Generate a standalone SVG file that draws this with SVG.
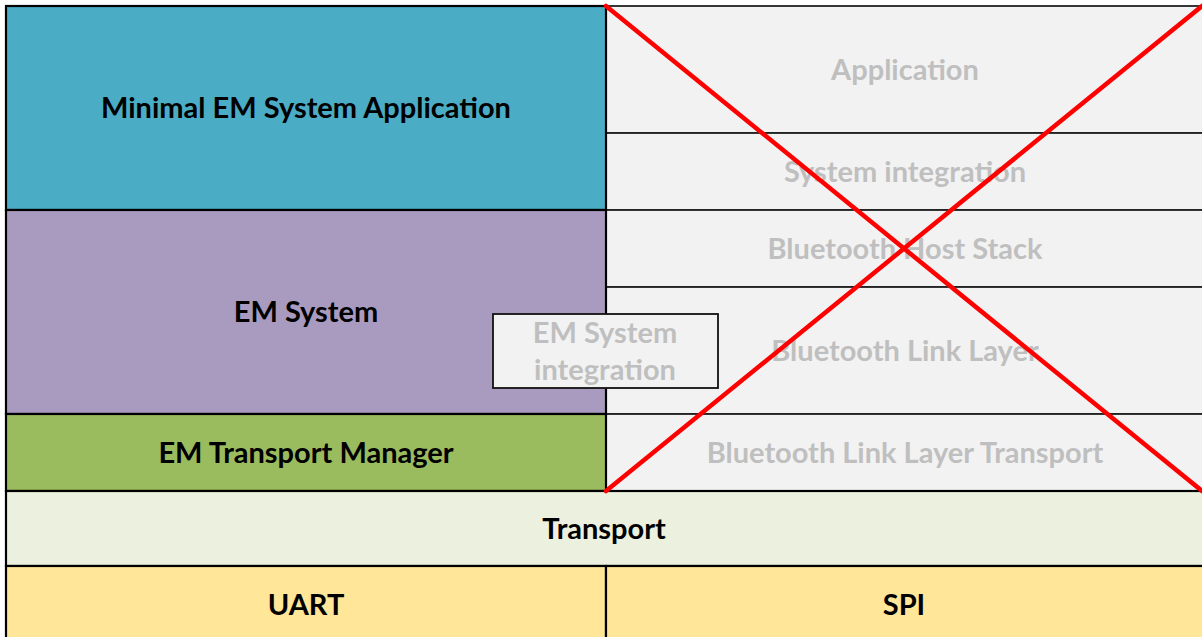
<svg xmlns="http://www.w3.org/2000/svg" width="1202" height="637" viewBox="0 0 1202 637">
<style>
.b{stroke:#000;stroke-width:2.2}
.g{fill:#F2F2F2;stroke:#222;stroke-width:1.8}
.t{font-family:Lato,"Open Sans","Liberation Sans",sans-serif;font-weight:bold;font-size:29px;text-anchor:middle;dominant-baseline:central;fill:#000}
.gt{fill:#BFBFBF}
.x{stroke:#FF0000;stroke-width:4.5;stroke-linecap:round}
</style>
<rect width="1202" height="637" fill="#fff"/>
<g id="gray-stack">
<g id="application"><rect class="g" x="606" y="6" width="600" height="127"/><text class="t gt" x="905" y="68">Application</text></g>
<g id="system-integration"><rect class="g" x="606" y="133" width="600" height="77"/><text class="t gt" x="905" y="170">System integration</text></g>
<g id="host-stack"><rect class="g" x="606" y="210" width="600" height="77"/><text class="t gt" x="905" y="247">Bluetooth Host Stack</text></g>
<g id="link-layer"><rect class="g" x="606" y="287" width="600" height="127"/><text class="t gt" x="905" y="349">Bluetooth Link Layer</text></g>
<g id="ll-transport"><rect class="g" x="606" y="414" width="600" height="77"/><text class="t gt" x="905" y="451">Bluetooth Link Layer Transport</text></g>
</g>
<g id="minimal-app"><rect class="b" x="6" y="6" width="600" height="204" fill="#4BACC6"/><text class="t" x="306" y="106">Minimal EM System Application</text></g>
<g id="em-system"><rect class="b" x="6" y="210" width="600" height="204" fill="#A99BBF"/><text class="t" x="306" y="310">EM System</text></g>
<g id="em-transport-manager"><rect class="b" x="6" y="414" width="600" height="77" fill="#9BBB5F"/><text class="t" x="306" y="451">EM Transport Manager</text></g>
<g id="transport"><rect class="b" x="6" y="491" width="1200" height="75" fill="#EBF1DE"/><text class="t" x="604" y="527">Transport</text></g>
<g id="uart"><rect class="b" x="6" y="566" width="600" height="75" fill="#FFE699"/><text class="t" x="306" y="603">UART</text></g>
<g id="spi"><rect class="b" x="606" y="566" width="600" height="75" fill="#FFE699"/><text class="t" x="904" y="603">SPI</text></g>
<g id="connectors">
<line class="x" x1="606" y1="6" x2="1202" y2="491"/>
<line class="x" x1="1202" y1="6" x2="606" y2="491"/>
</g>
<g id="em-system-integration"><rect x="493" y="314" width="225" height="74" fill="#F2F2F2" stroke="#111" stroke-width="1.8"/><text class="t gt" x="605" y="331">EM System</text><text class="t gt" x="605" y="368">integration</text></g>
</svg>
